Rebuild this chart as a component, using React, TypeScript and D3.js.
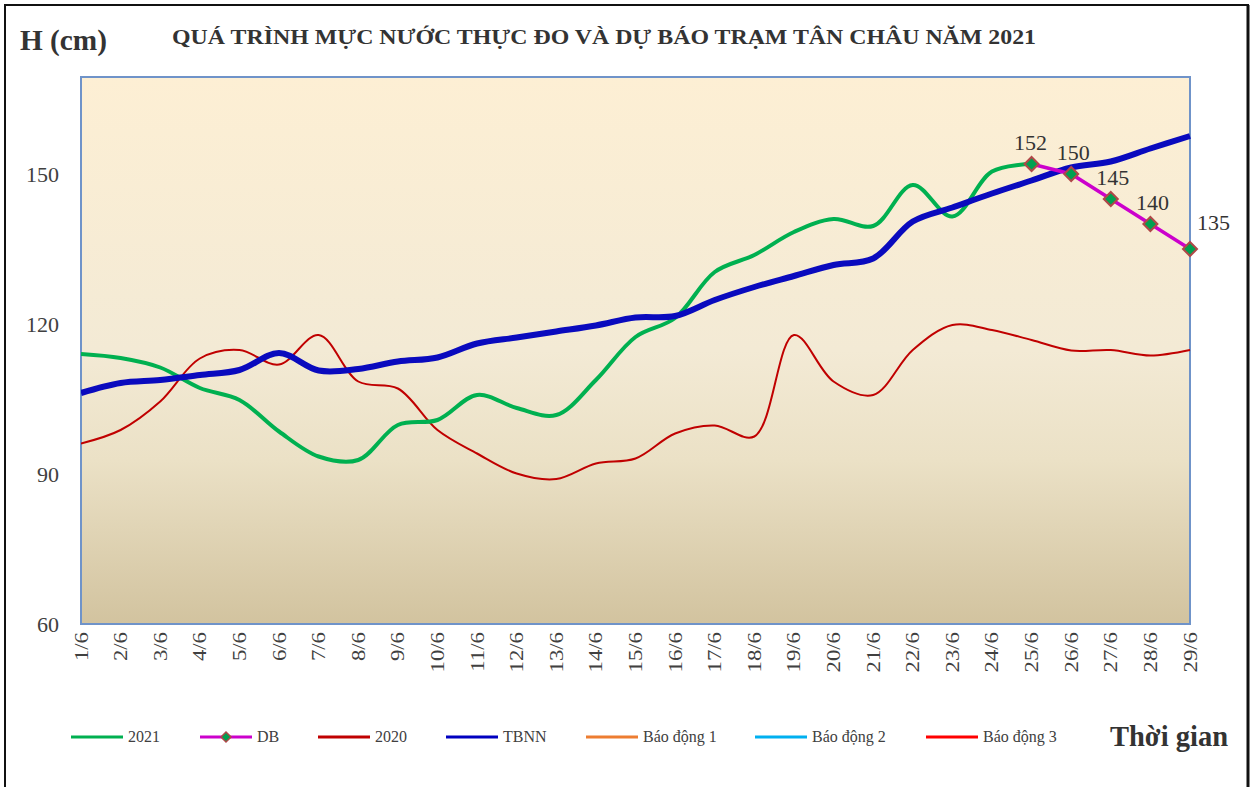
import React from "react";
import * as d3 from "d3";

const days: string[] = [
  "1/6","2/6","3/6","4/6","5/6","6/6","7/6","8/6","9/6","10/6",
  "11/6","12/6","13/6","14/6","15/6","16/6","17/6","18/6","19/6","20/6",
  "21/6","22/6","23/6","24/6","25/6","26/6","27/6","28/6","29/6",
];

const obs2021: (number | null)[] = [
  114, 113.2, 111.3, 107.2, 104.8, 98.5, 93.5, 92.8, 99.8, 100.8,
  105.8, 103.2, 101.8, 108.8, 117.4, 121.2, 130.4, 133.8, 138.4, 141,
  139.6, 147.8, 141.5, 150.5, 152, null, null, null, null,
];

const forecastDays: string[] = ["25/6", "26/6", "27/6", "28/6", "29/6"];
const forecastDB: number[] = [152, 150, 145, 140, 135];

const obs2020: number[] = [
  96.1, 98.8, 104.5, 113.1, 114.8, 111.9, 117.8, 108.5, 107.1, 98.8,
  94.1, 90.1, 89, 92.1, 93.1, 98.1, 99.7, 97.5, 117.8, 108.5,
  105.8, 114.8, 119.8, 118.8, 116.8, 114.7, 114.8, 113.7, 114.8,
];

const tbnn: number[] = [
  106.2, 108.2, 108.8, 109.8, 110.8, 114.2, 110.7, 111, 112.5, 113.3,
  116.1, 117.3, 118.5, 119.7, 121.3, 121.6, 124.8, 127.4, 129.6, 131.8,
  133.1, 140.5, 143.3, 146.1, 148.7, 151.3, 152.5, 155.1, 157.6,
];

const yTicks: number[] = [60, 90, 120, 150];

const legendItems = [
  { label: "2021", color: "#00B050", marker: false },
  { label: "DB", color: "#CC00CC", marker: true },
  { label: "2020", color: "#C00000", marker: false },
  { label: "TBNN", color: "#0000C0", marker: false },
  { label: "Báo động 1", color: "#ED7D31", marker: false },
  { label: "Báo động 2", color: "#00B0F0", marker: false },
  { label: "Báo động 3", color: "#FF0000", marker: false },
];
const legendX: number[] = [71, 200, 318, 446, 586, 755, 926];

const W = 1256;
const H = 787;
const PL = 81, PR = 1190, PT = 77, PB = 624;
const serif = "'Liberation Serif', 'Times New Roman', serif";

export default function App() {
  const x = d3.scalePoint<string>().domain(days).range([PL, PR]);
  const y = d3.scaleLinear().domain([60, 169.4]).range([PB, PT]);

  const smooth = d3
    .line<number | null>()
    .defined((d) => d !== null)
    .x((_, i) => x(days[i]) as number)
    .y((d) => y(d as number))
    .curve(d3.curveCatmullRom.alpha(0.5));

  const dbLine = d3
    .line<number>()
    .x((_, i) => x(forecastDays[i]) as number)
    .y((d) => y(d));

  const diamond = (cx: number, cy: number, r: number) =>
    `M${cx},${cy - r}L${cx + r},${cy}L${cx},${cy + r}L${cx - r},${cy}Z`;

  return (
    <svg
      width={W}
      height={H}
      style={{ position: "absolute", left: 0, top: 0, background: "#fff" }}
    >
      <defs>
        <linearGradient id="bg" x1="0" y1="0" x2="0" y2="1">
          <stop offset="0" stopColor="#FDEFD4" />
          <stop offset="0.5" stopColor="#F3EAD5" />
          <stop offset="0.7" stopColor="#EBE1C6" />
          <stop offset="1" stopColor="#D2C39F" />
        </linearGradient>
        <clipPath id="clip">
          <rect x={PL} y={PT - 10} width={PR - PL + 10} height={PB - PT + 10} />
        </clipPath>
      </defs>

      {/* outer frame */}
      <rect x={5} y={5} width={1243} height={800} fill="#fff" stroke="#111" strokeWidth={2} />
      <line x1={1248} y1={5} x2={1248} y2={787} stroke="#111" strokeWidth={3} />

      {/* plot background */}
      <rect x={PL} y={PT} width={PR - PL} height={PB - PT} fill="url(#bg)" stroke="#6F93C9" strokeWidth={2} />

      {/* titles */}
      <text
        x={20}
        y={50}
        fontFamily={serif}
        fontWeight="bold"
        fontSize={29}
        fill="#333"
        textLength={87}
        lengthAdjust="spacingAndGlyphs"
      >
        H (cm)
      </text>
      <text
        x={172}
        y={44}
        fontFamily={serif}
        fontWeight="bold"
        fontSize={21}
        fill="#333"
        textLength={864}
        lengthAdjust="spacingAndGlyphs"
      >
        QUÁ TRÌNH MỰC NƯỚC THỰC ĐO VÀ DỰ BÁO TRẠM TÂN CHÂU NĂM 2021
      </text>

      {/* y ticks */}
      {yTicks.map((t) => (
        <text
          key={t}
          x={59}
          y={y(t) + 8}
          textAnchor="end"
          fontFamily={serif}
          fontSize={22}
          fill="#404040"
        >
          {t}
        </text>
      ))}

      {/* x ticks */}
      {days.map((d) => {
        const px = x(d) as number;
        return (
          <text
            key={d}
            transform={`translate(${px + 6.5},${632}) rotate(-90) scale(1.2,1)`}
            textAnchor="end"
            fontFamily={serif}
            fontSize={19}
            fill="#404040"
          >
            {d}
          </text>
        );
      })}

      {/* series */}
      <g clipPath="url(#clip)">
        <path d={smooth(obs2020) || ""} fill="none" stroke="#C00000" strokeWidth={2} />
        <path d={smooth(obs2021) || ""} fill="none" stroke="#00B050" strokeWidth={4} />
        <path d={smooth(tbnn) || ""} fill="none" stroke="#0A0ABE" strokeWidth={6} />
        <path d={dbLine(forecastDB) || ""} fill="none" stroke="#CC00CC" strokeWidth={3.5} />
      </g>
      {forecastDB.map((v, i) => {
        const px = x(forecastDays[i]) as number;
        const py = y(v);
        return (
          <path key={i} d={diamond(px, py, 7)} fill="#00A050" stroke="#B04848" strokeWidth={2} />
        );
      })}
      {forecastDB.map((v, i) => {
        const px = x(forecastDays[i]) as number;
        const py = y(v);
        const last = i === forecastDB.length - 1;
        return (
          <text
            key={"l" + i}
            x={last ? px + 7 : px + (i === 0 ? -1 : 2)}
            y={last ? py - 19 : py - 14}
            textAnchor={last ? "start" : "middle"}
            fontFamily={serif}
            fontSize={22}
            fill="#333"
          >
            {v}
          </text>
        );
      })}

      {/* legend */}
      {legendItems.map((it, i) => {
        const lx = legendX[i];
        return (
          <g key={it.label}>
            <line x1={lx} y1={737} x2={lx + 52} y2={737} stroke={it.color} strokeWidth={3} />
            {it.marker && (
              <path d={diamond(lx + 26, 737, 5)} fill="#00A050" stroke="#B04848" strokeWidth={1.5} />
            )}
            <text x={lx + 57} y={742} fontFamily={serif} fontSize={16} fill="#404040">
              {it.label}
            </text>
          </g>
        );
      })}
      <text
        x={1110}
        y={746}
        fontFamily={serif}
        fontWeight="bold"
        fontSize={29}
        fill="#333"
        textLength={118}
        lengthAdjust="spacingAndGlyphs"
      >
        Thời gian
      </text>
    </svg>
  );
}
